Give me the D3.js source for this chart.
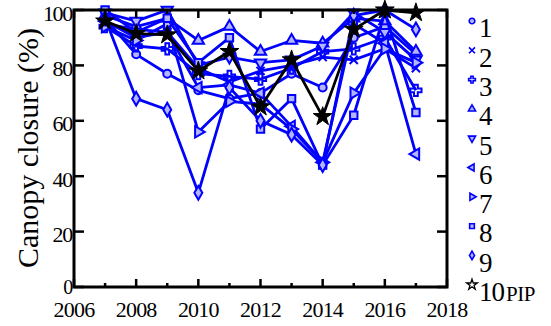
<!DOCTYPE html>
<html><head><meta charset="utf-8">
<script src="https://cdn.jsdelivr.net/npm/d3@7"></script>
<style>
body{margin:0;background:#fff}
#wrap{position:relative;width:551px;height:326px;overflow:hidden}
svg{position:absolute;left:0;top:0;display:block}
.t{position:absolute;font-family:'Liberation Serif',serif;line-height:1;white-space:nowrap;color:#000}
</style>
</head><body><div id="wrap"><svg id="c" width="551" height="326"></svg></div>
<script>
const years = [2007,2008,2009,2010,2011,2012,2013,2014,2015,2016,2017];
const seriesNames = ["1","2","3","4","5","6","7","8","9","10"];
const s1 = [97,84,77,71,68,70,77,72,90,94,84];
const s2 = [95,93,92,79,74,78,80,83,82,86,79];
const s3 = [94,87,86,77,76,75,79,85,86,90,71];
const s4 = [98,94,97,89,94,85,89,88,97,96,85];
const s5 = [99,96,100,80,83,81,82,87,99,92,82];
const s6 = [96,90,92,72,73,70,58,45,95,88,48];
const s7 = [94,89,95,56,67,66,57,45,70,86,81];
const s8 = [100,92,97,81,90,57,68,44,62,99,63];
const s9 = [97,68,64,34,72,60,55,44,98,100,93];
const s10 = [96,91.5,91,78,85,65,82,61.5,93,100,99];
const xTicks = [2006,2008,2010,2012,2014,2016,2018];
const yTicks = [0,20,40,60,80,100];
const allSeries = [s1,s2,s3,s4,s5,s6,s7,s8,s9,s10];

const svg = d3.select("#c");
const wrap = d3.select("#wrap");
const L=74, R=447, T=10, B=287;
const x = d3.scaleLinear().domain([2006,2018]).range([L,R]);
const y = d3.scaleLinear().domain([0,100]).range([B,T]);

const sym = [
  [d3.symbolCircle,0],[d3.symbolTimes,0],[d3.symbolCross,0],[d3.symbolTriangle,0],
  [d3.symbolTriangle,180],[d3.symbolTriangle,-90],[d3.symbolTriangle,90],
  [d3.symbolSquare,0],[d3.symbolDiamond,0],[d3.symbolStar,0]
];
const strokeOnly = i => i===1 || i===2;

const line = d3.line().x((d,i)=>x(years[i])).y(d=>y(d));
const blue="#0000ff", lightBlue="#b4b4ff";

allSeries.forEach((s,k)=>{
  const col = k===9 ? "#000" : blue;
  const g = svg.append("g");
  g.append("path").attr("d",line(s)).attr("fill","none").attr("stroke",col).attr("stroke-width",2.8).attr("stroke-linejoin","round");
  const [type,rot]=sym[k];
  const size = k===9?110:(k===1?45:(k===2?70:(k===0?50:55)));
  g.selectAll("path.m").data(s).join("path").attr("class","m")
    .attr("d",d3.symbol().type(type).size(size)())
    .attr("transform",(d,i)=>`translate(${x(years[i])},${y(d)}) rotate(${rot})`)
    .attr("fill",k===9?"#000":(strokeOnly(k)?"none":lightBlue))
    .attr("stroke",col).attr("stroke-width",k===9?1:2);
});

svg.append("rect").attr("x",L).attr("y",T).attr("width",R-L).attr("height",B-T)
  .attr("fill","none").attr("stroke","#000").attr("stroke-width",3);

d3.range(2006,2019).forEach(v=>{
  const len = v%2===0?8:4;
  svg.append("line").attr("x1",x(v)).attr("x2",x(v)).attr("y1",B).attr("y2",B-len).attr("stroke","#000").attr("stroke-width",2.5);
  svg.append("line").attr("x1",x(v)).attr("x2",x(v)).attr("y1",T).attr("y2",T+len).attr("stroke","#000").attr("stroke-width",2.5);
});

// HTML text helper: (x, baseline y, anchor)
function label(txt, px, base, fs, anchor, ls){
  const tx = anchor==="middle"?"-50%":(anchor==="end"?"-100%":"0");
  return wrap.append("div").attr("class","t")
    .style("left",px+"px").style("top",(base-0.8375*fs)+"px")
    .style("font-size",fs+"px").style("letter-spacing",(ls||0)+"px")
    .style("transform",`translateX(${tx})`).text(txt);
}

xTicks.forEach(v=> label(v, x(v), 317, 22, "middle", -0.8));
yTicks.forEach(v=>{
  svg.append("line").attr("x1",L).attr("x2",L+10).attr("y1",y(v)).attr("y2",y(v)).attr("stroke","#000").attr("stroke-width",2.5);
  svg.append("line").attr("x1",R).attr("x2",R-10).attr("y1",y(v)).attr("y2",y(v)).attr("stroke","#000").attr("stroke-width",2.5);
  label(v, 72, v===0?y(v)+7:y(v)+11, v===0?20:22, "end", -1.3);
});

// rotated y title
wrap.append("div").attr("class","t")
  .style("left","28px").style("top","148px").style("font-size","30px")
  .style("transform","translate(-50%,-50%) rotate(-90deg)")
  .text("Canopy closure (%)");

seriesNames.forEach((n,k)=>{
  const cy = 21 + k*29.3;
  const col = k===9 ? "#000" : blue;
  const [type,rot]=sym[k];
  svg.append("path").attr("d",d3.symbol().type(type).size(k===9?35:(k<3?25:22))())
    .attr("transform",`translate(472,${cy}) rotate(${rot})`)
    .attr("fill",k===9?"none":(strokeOnly(k)?"none":lightBlue)).attr("stroke",col).attr("stroke-width",k===9?1.3:1.6);
  const d = label(k===9?"10":n, 479, cy+17, 27, "start", -1);
  if(k===9) d.append("span").style("font-size","21px").style("margin-left","2px").style("letter-spacing","-0.5px").text("PIP");
});
</script></body></html>
